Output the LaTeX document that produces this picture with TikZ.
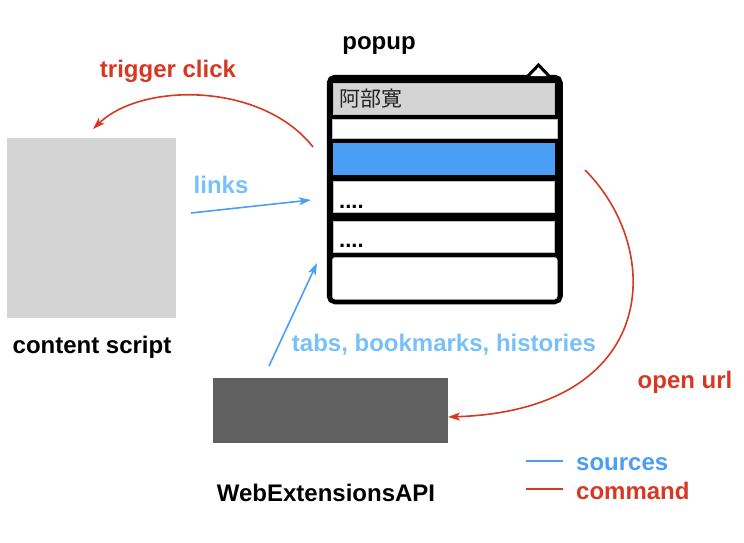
\documentclass[tikz,border=0pt]{standalone}
\usepackage{fontspec}
\setmainfont{Liberation Sans}
\newfontfamily\cjkfont{Noto Sans CJK JP}
\usetikzlibrary{arrows.meta}

\definecolor{cmdred}{RGB}{214,56,36}
\definecolor{srcblue}{RGB}{74,158,245}
\definecolor{lblblue}{RGB}{120,192,250}
\definecolor{panelgray}{RGB}{212,212,212}
\definecolor{apigray}{RGB}{96,96,96}
\definecolor{textdark}{RGB}{34,34,34}

\tikzset{
  lbl/.style={font=\bfseries\fontsize{24}{28}\selectfont, inner sep=0pt},
  block/.style={anchor=north west, inner sep=0pt, draw=none},
  row/.style={anchor=north west, inner sep=0pt, draw=black!25, line width=0.6pt,
              minimum width=221pt},
  cmdarrow/.style={draw=cmdred, line width=1.6pt,
                   -{Stealth[length=12pt,width=8pt,inset=3pt]}},
  srcarrow/.style={draw=srcblue, line width=1.6pt,
                   -{Stealth[length=12pt,width=8pt,inset=3pt]}},
  dots/.style={font=\bfseries\fontsize{22}{26}\selectfont, inner sep=0pt, anchor=base west}
}

\begin{document}
\begin{tikzpicture}[x=1pt,y=-1pt]
\useasboundingbox (0,0) rectangle (744,543);

% popup window frame
\draw[line width=6.5pt, rounded corners=5pt, fill=black] (330,78) rectangle (559.5,301);
% caret on top of the frame
\fill[white] (529,76) -- (538.5,66) -- (548,76) -- cycle;
\draw[line width=3pt, line join=miter] (527,77) -- (538.5,65) -- (550,77);

% popup rows
\node[row, fill=panelgray, minimum height=31pt] (hdr) at (333,83) {};
\node[anchor=west, inner sep=0pt, text=textdark, font=\cjkfont\fontsize{21}{24}\selectfont]
  (title) at (339,99) {阿部寛};
\node[row, fill=white, minimum width=225pt, minimum height=19pt] (rowa) at (332,119) {};
\node[row, fill=srcblue, draw=srcblue, minimum height=31pt] (sel) at (333,143) {};
\node[row, fill=white, minimum height=31pt] (rowb) at (333,181) {};
\node[dots] (dotsb) at (339,208) {....};
\node[row, fill=white, minimum height=31pt] (rowc) at (333,221) {};
\node[dots] (dotsc) at (339,247) {....};
\node[row, fill=white, minimum width=225pt, minimum height=42pt, rounded corners=3pt] (rowd) at (332,257) {};

\node[lbl] (popuplbl) at (379,46) {popup};

% content script panel
\node[block, fill=panelgray, minimum width=169pt, minimum height=180pt] (cs) at (7,138) {};
\node[lbl] (cslbl) at (92,347) {content script};

% WebExtensions API panel
\node[block, fill=apigray, minimum width=235pt, minimum height=65pt] (api) at (213,378) {};
\node[lbl] (apilbl) at (326,493) {WebExtensionsAPI};

% connector end points
\coordinate (tcs) at (313,147);
\coordinate (tce) at (93,129);
\coordinate (lks) at (191,213);
\coordinate (lke) at (311,200);
\coordinate (tbs) at (269,366);
\coordinate (tbe) at (317,263);
\coordinate (ous) at (585,170);
\coordinate (oue) at (448,417);

% commands
\draw[cmdarrow] (tcs) .. controls (262,82) and (142,82) .. (tce);
\draw[cmdarrow] (ous) .. controls (665,250) and (660,410) .. (oue);
% sources
\draw[srcarrow] (lks) -- (lke);
\draw[srcarrow] (tbs) -- (tbe);

% connector labels
\node[lbl, text=cmdred] (tclbl) at (168,71) {trigger click};
\node[lbl, text=lblblue] (lklbl) at (221,185) {links};
\node[lbl, text=lblblue] (tblbl) at (444,345) {tabs, bookmarks, histories};
\node[lbl, text=cmdred] (oulbl) at (685,382) {open url};

% legend
\coordinate (lga) at (526,461);
\coordinate (lgb) at (563,461);
\coordinate (lgc) at (526,489);
\coordinate (lgd) at (563,489);
\draw[srcblue, line width=1.6pt] (lga) -- (lgb);
\draw[cmdred, line width=1.6pt] (lgc) -- (lgd);
\node[lbl, text=srcblue, anchor=west] (srclbl) at (576,464) {sources};
\node[lbl, text=cmdred, anchor=west] (cmdlbl) at (576,491) {command};
\end{tikzpicture}
\end{document}
